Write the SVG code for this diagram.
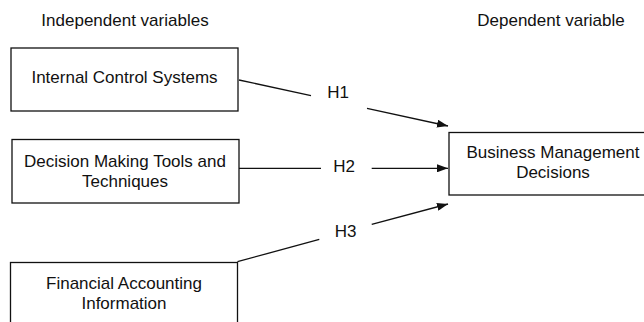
<svg xmlns="http://www.w3.org/2000/svg" width="644" height="322" viewBox="0 0 644 322">
<style>
text{font-family:"Liberation Sans",Arial,sans-serif;font-size:17px;fill:#111;text-anchor:middle}
.box{fill:#fff;stroke:#111;stroke-width:1.3}
.ln{fill:none;stroke:#111;stroke-width:1.3}
</style>
<defs>
<marker id="ah" markerUnits="userSpaceOnUse" markerWidth="11" markerHeight="8" refX="11" refY="4" orient="auto"><path d="M0,0 L11,4 L0,8 z" fill="#111"/></marker>
</defs>
<rect width="644" height="322" fill="#fff"/>
<text x="125" y="26">Independent variables</text>
<text x="551" y="26">Dependent variable</text>
<g id="n1"><rect class="box" x="11" y="48" width="227" height="63"/><text x="124.5" y="83">Internal Control Systems</text></g>
<g id="n2"><rect class="box" x="12" y="139.5" width="227" height="63.5"/><text x="125" y="167">Decision Making Tools and</text><text x="125" y="187">Techniques</text></g>
<g id="n3"><rect class="box" x="10.5" y="262.5" width="227" height="64"/><text x="124" y="289">Financial Accounting</text><text x="124" y="309">Information</text></g>
<g id="n4"><rect class="box" x="449" y="132.5" width="208" height="62.5"/><text x="553" y="158">Business Management</text><text x="553" y="178">Decisions</text></g>
<g id="connectors">
<line class="ln" x1="239" y1="80" x2="311" y2="95.7"/>
<line class="ln" x1="367" y1="108.3" x2="448" y2="126" marker-end="url(#ah)"/>
<line class="ln" x1="239" y1="168.3" x2="321" y2="168.3"/>
<line class="ln" x1="371.7" y1="168.3" x2="448" y2="168.3" marker-end="url(#ah)"/>
<line class="ln" x1="237.5" y1="261.7" x2="319.3" y2="239.3"/>
<line class="ln" x1="371.7" y1="224.3" x2="448" y2="204" marker-end="url(#ah)"/>
<text x="338" y="98">H1</text>
<text x="344" y="172">H2</text>
<text x="345.5" y="237">H3</text>
</g>
</svg>
